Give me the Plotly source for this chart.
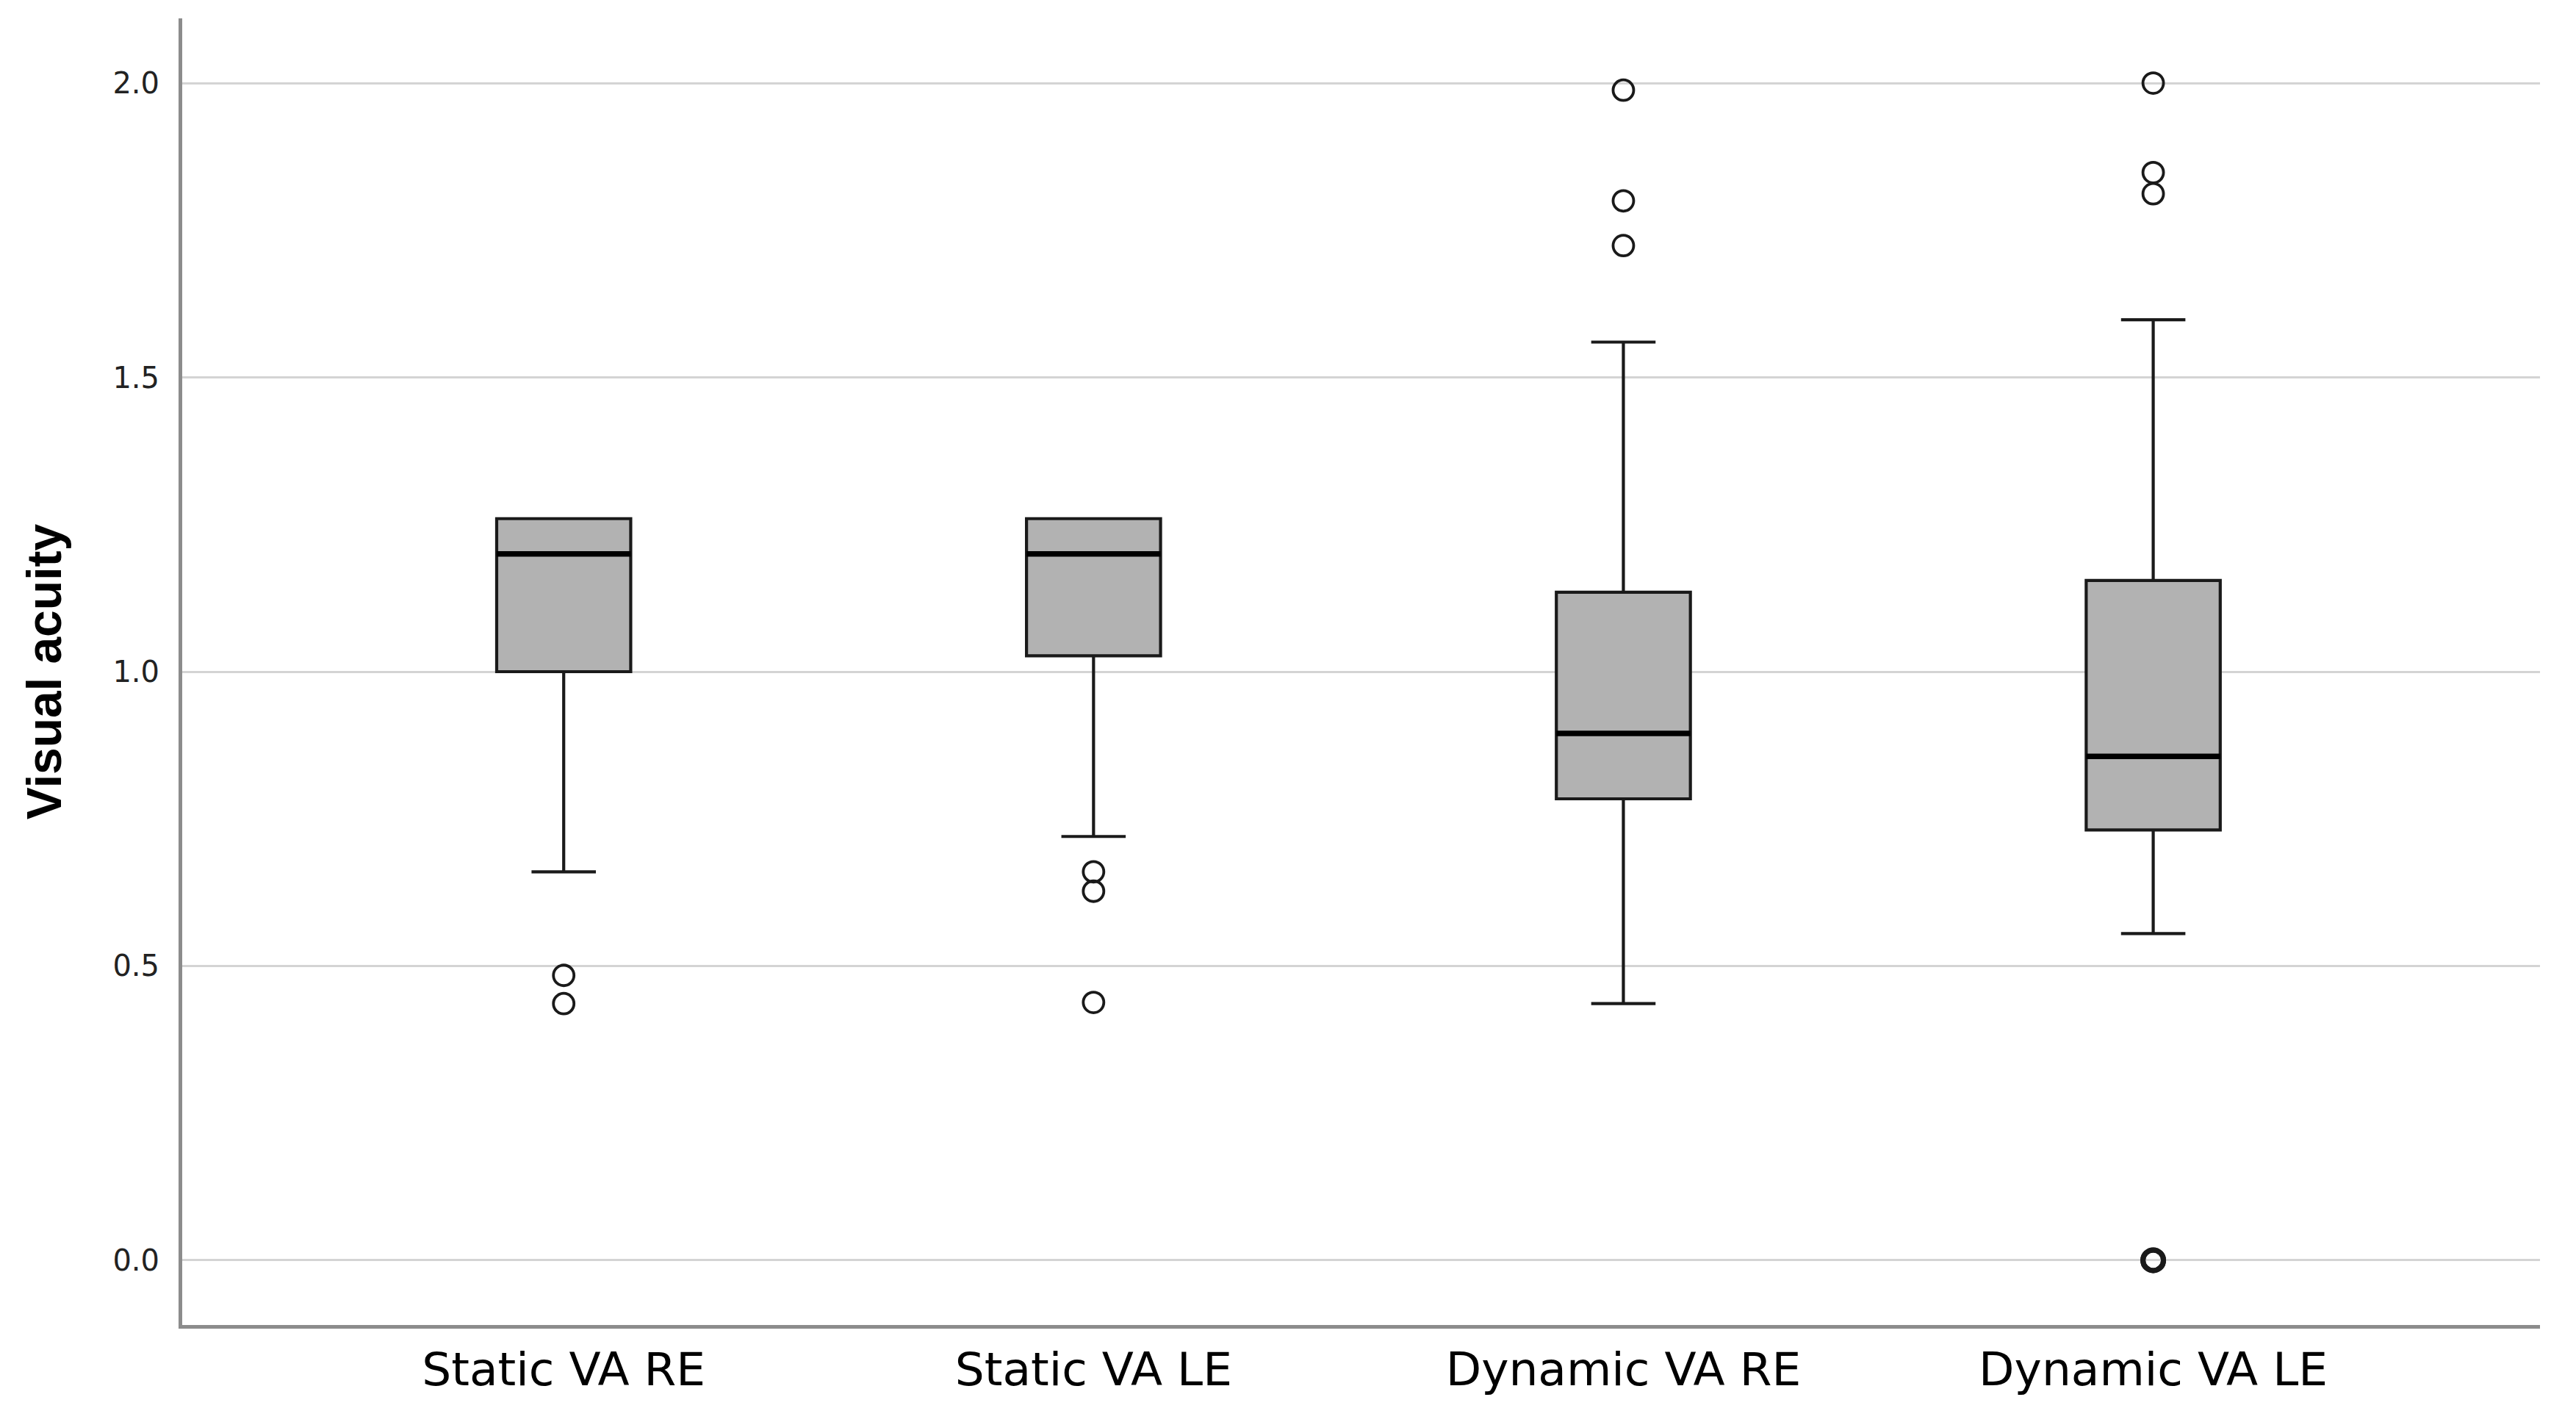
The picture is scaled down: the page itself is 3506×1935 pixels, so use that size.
import plotly.graph_objects as go
from collections import Counter

# ---- data ----
categories = ["Static VA RE", "Static VA LE", "Dynamic VA RE", "Dynamic VA LE"]
q1 = [1.00, 1.027, 0.784, 0.731]
median = [1.20, 1.20, 0.895, 0.856]
q3 = [1.26, 1.26, 1.135, 1.155]
lower_whisker = [0.66, 0.72, 0.436, 0.555]
upper_whisker = [1.26, 1.26, 1.56, 1.598]
outliers = [
    [0.484, 0.436],
    [0.660, 0.627, 0.438],
    [1.988, 1.800, 1.724],
    [2.000, 1.848, 1.812, 0.0, 0.0],
]
y_ticks = [0.0, 0.5, 1.0, 1.5, 2.0]
y_tick_labels = ["0.0", "0.5", "1.0", "1.5", "2.0"]

# ---- style ----
BOX_W = 0.253
FILL = "#b2b2b2"
LINE = "#1a1a1a"

positions = list(range(len(categories)))
fig = go.Figure()

fig.add_trace(go.Box(
    x=positions,
    q1=q1, median=median, q3=q3,
    lowerfence=lower_whisker, upperfence=upper_whisker,
    width=BOX_W, whiskerwidth=0.48,
    fillcolor=FILL,
    line=dict(color=LINE, width=4.2),
    boxpoints=False,
    showlegend=False,
    hoverinfo="skip",
))

# thicker median lines
for i, m in zip(positions, median):
    fig.add_trace(go.Scatter(
        x=[i - BOX_W / 2, i + BOX_W / 2], y=[m, m],
        mode="lines", line=dict(color="#000000", width=7.5),
        showlegend=False, hoverinfo="skip",
    ))

# outliers (coincident values drawn with a heavier ring)
for i, pts in zip(positions, outliers):
    counts = Counter(pts)
    widths = [3.8 if counts[p] == 1 else 7 for p in pts]
    fig.add_trace(go.Scatter(
        x=[i] * len(pts), y=pts,
        mode="markers",
        marker=dict(symbol="circle-open", size=28, color=LINE,
                    line=dict(width=widths, color=LINE)),
        showlegend=False, hoverinfo="skip",
    ))

fig.update_layout(
    width=3506, height=1935,
    margin=dict(l=240, r=57, t=17, b=140),
    paper_bgcolor="white", plot_bgcolor="white",
    xaxis=dict(
        range=[-0.72, 3.73],
        tickmode="array", tickvals=positions, ticktext=categories,
        tickfont=dict(family="DejaVu Sans", size=63, color="#000000"),
        showgrid=False, zeroline=False,
        showline=True, linecolor="#8c8c8c", linewidth=5,
        ticks="", ticklabelstandoff=1,
    ),
    yaxis=dict(
        range=[-0.11, 2.11],
        tickmode="array", tickvals=y_ticks, ticktext=y_tick_labels,
        tickfont=dict(family="DejaVu Sans", size=40, color="#222222"),
        showgrid=True, gridcolor="#d4d4d4", gridwidth=3,
        zeroline=False,
        showline=True, linecolor="#8c8c8c", linewidth=5,
        ticks="outside", ticklen=18, tickcolor="rgba(0,0,0,0)",
        title=dict(text="<b>Visual acuity</b>", standoff=50,
                   font=dict(family="Liberation Sans", size=66, color="#000000")),
    ),
)

fig.write_html("out.html")
